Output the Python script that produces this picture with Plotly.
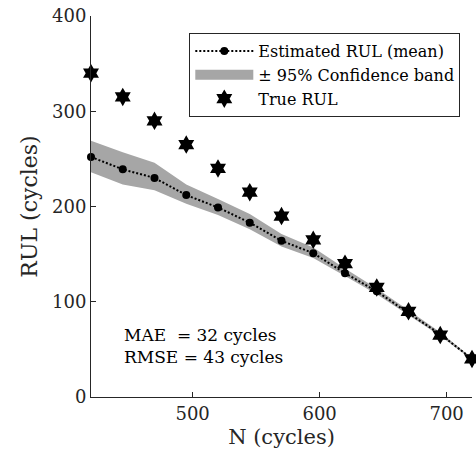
import plotly.graph_objects as go

# Data
N_cycles = [420, 445, 470, 495, 520, 545, 570, 595, 620, 645, 670, 695, 720]
rul_mean = [252, 239, 230, 212, 199, 183, 164, 151, 130, 111, 88, 66, 40]
rul_upper = [269, 257, 246, 223, 208, 192, 171, 157, 135, 114, 91, 68, 41]
rul_lower = [236, 223, 217, 203, 191, 176, 158, 146, 127, 108, 86, 64, 39]
rul_true = [340, 315, 290, 265, 240, 215, 190, 165, 140, 115, 90, 65, 40]
x_ticks = [500, 600, 700]
y_ticks = [0, 100, 200, 300, 400]
mae_text = "MAE\u00a0\u00a0= 32 cycles"
rmse_text = "RMSE = 43 cycles"

FONT = "DejaVu Serif"
AXC = "#262626"
BAND = "#a6a6a6"

fig = go.Figure()

fig.add_trace(go.Scatter(
    x=N_cycles + N_cycles[::-1],
    y=rul_upper + rul_lower[::-1],
    fill="toself", fillcolor=BAND,
    line=dict(width=0, color=BAND),
    mode="lines", showlegend=False, hoverinfo="skip",
))
# legend-only entry for the band (thick swatch)
fig.add_trace(go.Scatter(
    x=[None], y=[None], mode="lines",
    line=dict(width=16, color=BAND),
    name="\u00b1 95% Confidence band", legendrank=2,
))
fig.add_trace(go.Scatter(
    x=N_cycles, y=rul_mean, mode="lines+markers",
    line=dict(color="black", width=2, dash="2px,2px"),
    marker=dict(symbol="circle", size=8, color="black"),
    name="Estimated RUL (mean)", legendrank=1, cliponaxis=False,
))
fig.add_trace(go.Scatter(
    x=N_cycles, y=rul_true, mode="markers",
    marker=dict(symbol="hexagram", size=14, color="black"),
    name="True RUL", legendrank=3, cliponaxis=False,
))

fig.add_annotation(x=444.5, y=65, xref="x", yref="y", text=mae_text,
                   showarrow=False, xanchor="left", yanchor="middle",
                   font=dict(family=FONT, size=17, color="black"))
fig.add_annotation(x=444.5, y=41.5, xref="x", yref="y", text=rmse_text,
                   showarrow=False, xanchor="left", yanchor="middle",
                   font=dict(family=FONT, size=17, color="black"))

fig.update_layout(
    width=476, height=466,
    margin=dict(l=91, r=4, t=16, b=69),
    plot_bgcolor="white", paper_bgcolor="white",
    font=dict(family=FONT, color=AXC),
    showlegend=True,
    legend=dict(x=0.258, y=0.955, xanchor="left", yanchor="top",
                bgcolor="white", bordercolor=AXC, borderwidth=1,
                font=dict(family=FONT, size=16, color="black"),
                tracegroupgap=0, itemwidth=58),
    xaxis=dict(range=[420, 720], tickvals=x_ticks, ticks="inside", ticklen=5,
               tickcolor=AXC, showline=True, linecolor=AXC, linewidth=1,
               showgrid=False, zeroline=False, mirror=False,
               tickfont=dict(family=FONT, size=18, color=AXC),
               title=dict(text="N (cycles)", font=dict(family=FONT, size=21, color=AXC),
                          standoff=6)),
    yaxis=dict(range=[0, 400], tickvals=y_ticks, ticks="inside", ticklen=5,
               tickcolor=AXC, showline=True, linecolor=AXC, linewidth=1,
               showgrid=False, zeroline=False, mirror=False,
               tickfont=dict(family=FONT, size=18, color=AXC),
               title=dict(text="RUL (cycles)", font=dict(family=FONT, size=22, color=AXC),
                          standoff=8)),
)

fig.write_html("out.html")
